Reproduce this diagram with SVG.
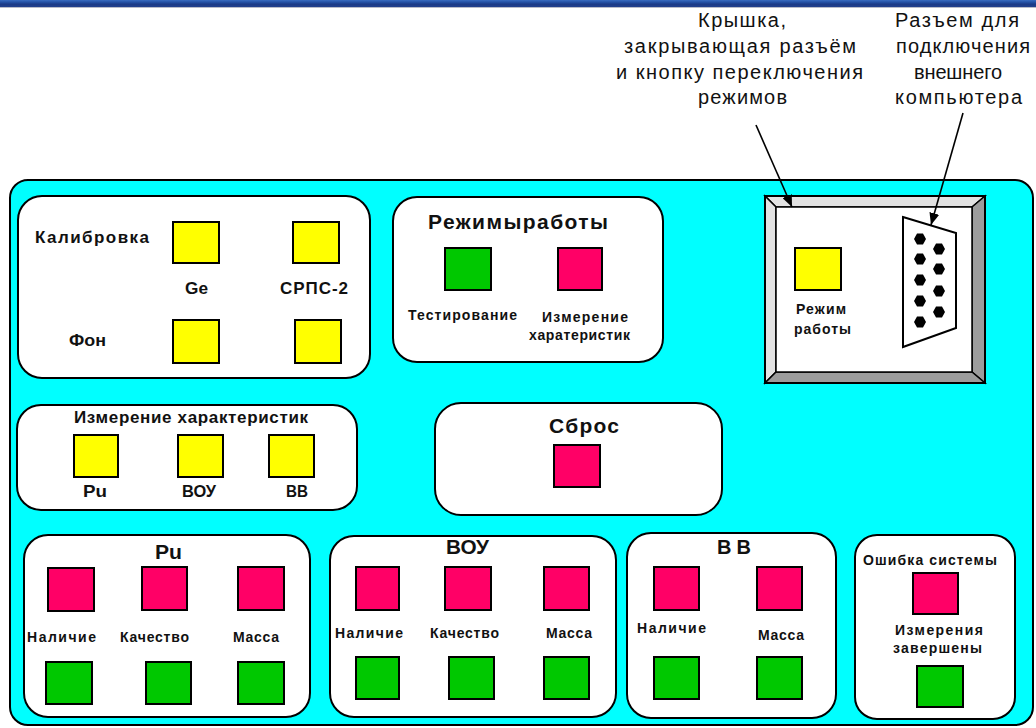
<svg xmlns="http://www.w3.org/2000/svg" width="1036" height="728" viewBox="0 0 1036 728">
<defs>
<linearGradient id="bar" x1="0" y1="0" x2="0" y2="1">
<stop offset="0" stop-color="#3a6cc0"/>
<stop offset="0.3" stop-color="#2452a6"/>
<stop offset="0.6" stop-color="#1b3a86"/>
<stop offset="1" stop-color="#22408e"/>
</linearGradient>
<marker id="arr" viewBox="0 0 12 10" refX="12" refY="5" markerWidth="12" markerHeight="10" markerUnits="userSpaceOnUse" orient="auto">
<path d="M0,0 L12,5 L0,10 z" fill="#000"/>
</marker>
<polygon id="pin" points="-6,0 -3,-5.5 3,-5.5 6,0 3,5.5 -3,5.5" fill="#000"/>
</defs>
<style>
.panel{fill:#fff;stroke:#000;stroke-width:2}
.y{fill:#ffff00;stroke:#000;stroke-width:2}
.g{fill:#00c800;stroke:#000;stroke-width:2}
.r{fill:#ff0066;stroke:#000;stroke-width:2}
.t{font-family:"Liberation Sans",Arial,sans-serif;font-weight:bold;fill:#111;font-size:14px}
.s14{font-size:14px}
.s16{font-size:16.5px}
.s17{font-size:17px}
.s20{font-size:20px}
.big{font-size:21px}
.lab{font-family:"Liberation Sans",Arial,sans-serif;font-size:20px;fill:#111}
.line{stroke:#000;stroke-width:1.6;fill:none}
</style>
<rect x="0" y="0" width="1036" height="7" fill="url(#bar)"/>
<line x1="0" y1="7.5" x2="1036" y2="7.5" stroke="#b8bcc8" stroke-width="1"/>

<g id="housing">
<rect x="10" y="180" width="1023" height="545" rx="18" ry="18" fill="#00ffff" stroke="#000" stroke-width="2"/>
</g>

<g id="calibration">
<rect class="panel" x="18" y="196" width="352" height="182" rx="24" ry="24"/>
<text class="t s17" x="35" y="243" textLength="114" lengthAdjust="spacing">Калибровка</text>
<rect class="y" x="173" y="222" width="46" height="41"/>
<rect class="y" x="293" y="222" width="46" height="41"/>
<text class="t s17" x="185" y="294" textLength="23" lengthAdjust="spacingAndGlyphs">Ge</text>
<text class="t s17" x="280" y="294" textLength="68" lengthAdjust="spacing">СРПС-2</text>
<text class="t s17" x="69" y="346" textLength="37" lengthAdjust="spacingAndGlyphs">Фон</text>
<rect class="y" x="173" y="320" width="46" height="43"/>
<rect class="y" x="295" y="320" width="46" height="43"/>
</g>

<g id="modes">
<rect class="panel" x="393" y="197" width="270" height="165" rx="24" ry="24"/>
<text class="t big" x="428" y="229" textLength="180" lengthAdjust="spacing">Режимыработы</text>
<rect class="g" x="445" y="248" width="46" height="42"/>
<rect class="r" x="558" y="248" width="44" height="42"/>
<text class="t" x="408" y="320" textLength="109" lengthAdjust="spacing">Тестирование</text>
<text class="t" x="542" y="322" textLength="86" lengthAdjust="spacing">Измерение</text>
<text class="t" x="529" y="340" textLength="101" lengthAdjust="spacing">харатеристик</text>
</g>

<g id="cover">
<polygon points="765,196 985,196 972,207 776,207" fill="#e2e2e2" stroke="#000" stroke-width="1.5"/>
<polygon points="765,196 776,207 776,372 765,383" fill="#e2e2e2" stroke="#000" stroke-width="1.5"/>
<polygon points="985,196 985,383 972,372 972,207" fill="#9c9c9c" stroke="#000" stroke-width="1.5"/>
<polygon points="765,383 985,383 972,372 776,372" fill="#9c9c9c" stroke="#000" stroke-width="1.5"/>
<rect x="776" y="207" width="196" height="165" fill="#fff" stroke="#000" stroke-width="1.5"/>
<rect x="765" y="196" width="220" height="187" fill="none" stroke="#000" stroke-width="2"/>
<rect class="y" x="795" y="248" width="46" height="42"/>
<text class="t s14" x="796" y="314" textLength="50" lengthAdjust="spacing">Режим</text>
<text class="t s14" x="794" y="334" textLength="57" lengthAdjust="spacing">работы</text>
</g>

<g id="connector">
<polygon points="903,217 956,233 956,328 903,347" fill="#fff" stroke="#000" stroke-width="2"/>
<use href="#pin" x="920" y="239"/>
<use href="#pin" x="920" y="259"/>
<use href="#pin" x="920" y="280"/>
<use href="#pin" x="920" y="301"/>
<use href="#pin" x="920" y="322"/>
<use href="#pin" x="939" y="249"/>
<use href="#pin" x="939" y="269"/>
<use href="#pin" x="939" y="291"/>
<use href="#pin" x="939" y="312"/>
</g>

<g id="cover-label">
<text class="lab" x="698" y="27" textLength="88" lengthAdjust="spacing">Крышка,</text>
<text class="lab" x="624" y="53" textLength="232" lengthAdjust="spacing">закрывающая разъём</text>
<text class="lab" x="616" y="79" textLength="247" lengthAdjust="spacing">и кнопку переключения</text>
<text class="lab" x="698" y="104" textLength="89" lengthAdjust="spacing">режимов</text>
</g>

<g id="port-label">
<text class="lab" x="895" y="27" textLength="124" lengthAdjust="spacing">Разъем для</text>
<text class="lab" x="896" y="53" textLength="134" lengthAdjust="spacing">подключения</text>
<text class="lab" x="914" y="79" textLength="88" lengthAdjust="spacing">внешнего</text>
<text class="lab" x="895" y="104" textLength="127" lengthAdjust="spacing">компьютера</text>
</g>

<g id="measure">
<rect class="panel" x="17" y="405" width="340" height="105" rx="24" ry="24"/>
<text class="t s17" x="74" y="423" textLength="234" lengthAdjust="spacing">Измерение характеристик</text>
<rect class="y" x="74" y="435" width="44" height="42"/>
<rect class="y" x="178" y="435" width="45" height="42"/>
<rect class="y" x="269" y="435" width="45" height="42"/>
<text class="t s16" x="83" y="497" textLength="24" lengthAdjust="spacingAndGlyphs">Pu</text>
<text class="t s16" x="182" y="497" textLength="34" lengthAdjust="spacingAndGlyphs">ВОУ</text>
<text class="t s16" x="286" y="497" textLength="22" lengthAdjust="spacingAndGlyphs">ВВ</text>
</g>

<g id="reset">
<rect class="panel" x="435" y="403" width="287" height="112" rx="26" ry="26"/>
<text class="t big" x="549" y="433" textLength="70" lengthAdjust="spacing">Сброс</text>
<rect class="r" x="554" y="445" width="46" height="42"/>
</g>

<g id="pu">
<rect class="panel" x="24" y="535" width="286" height="182" rx="24" ry="24"/>
<text class="t s20" x="155" y="559" textLength="27" lengthAdjust="spacingAndGlyphs">Pu</text>
<rect class="r" x="48" y="568" width="46" height="43"/>
<rect class="r" x="142" y="567" width="45" height="43"/>
<rect class="r" x="238" y="567" width="46" height="43"/>
<text class="t" x="27" y="642" textLength="69" lengthAdjust="spacing">Наличие</text>
<text class="t" x="120" y="642" textLength="69" lengthAdjust="spacing">Качество</text>
<text class="t" x="233" y="642" textLength="46" lengthAdjust="spacing">Масса</text>
<rect class="g" x="46" y="662" width="46" height="42"/>
<rect class="g" x="146" y="662" width="45" height="42"/>
<rect class="g" x="238" y="662" width="46" height="42"/>
</g>

<g id="bou">
<rect class="panel" x="330" y="536" width="286" height="181" rx="24" ry="24"/>
<text class="t s20" x="446" y="554" textLength="43" lengthAdjust="spacingAndGlyphs">ВОУ</text>
<rect class="r" x="356" y="567" width="43" height="43"/>
<rect class="r" x="445" y="567" width="46" height="43"/>
<rect class="r" x="544" y="567" width="45" height="43"/>
<text class="t" x="335" y="638" textLength="68" lengthAdjust="spacing">Наличие</text>
<text class="t" x="430" y="638" textLength="69" lengthAdjust="spacing">Качество</text>
<text class="t" x="546" y="638" textLength="46" lengthAdjust="spacing">Масса</text>
<rect class="g" x="356" y="657" width="43" height="42"/>
<rect class="g" x="449" y="657" width="45" height="42"/>
<rect class="g" x="544" y="657" width="45" height="42"/>
</g>

<g id="bb">
<rect class="panel" x="627" y="533" width="209" height="185" rx="24" ry="24"/>
<text class="t s20" x="717" y="554" textLength="34" lengthAdjust="spacing">ВВ</text>
<rect class="r" x="654" y="567" width="45" height="43"/>
<rect class="r" x="757" y="567" width="45" height="43"/>
<text class="t" x="637" y="633" textLength="69" lengthAdjust="spacing">Наличие</text>
<text class="t" x="758" y="640" textLength="46" lengthAdjust="spacing">Масса</text>
<rect class="g" x="654" y="657" width="45" height="42"/>
<rect class="g" x="757" y="657" width="45" height="42"/>
</g>

<g id="error">
<rect class="panel" x="855" y="535" width="160" height="184" rx="22" ry="22"/>
<text class="t" x="863" y="565" textLength="134" lengthAdjust="spacing">Ошибка системы</text>
<rect class="r" x="913" y="573" width="45" height="41"/>
<text class="t" x="895" y="635" textLength="88" lengthAdjust="spacing">Измерения</text>
<text class="t" x="893" y="653" textLength="89" lengthAdjust="spacing">завершены</text>
<rect class="g" x="917" y="666" width="46" height="41"/>
</g>

<g id="connectors">
<line class="line" x1="756" y1="125" x2="792" y2="207" marker-end="url(#arr)"/>
<line class="line" x1="963" y1="113" x2="931" y2="225" marker-end="url(#arr)"/>
</g>
</svg>
